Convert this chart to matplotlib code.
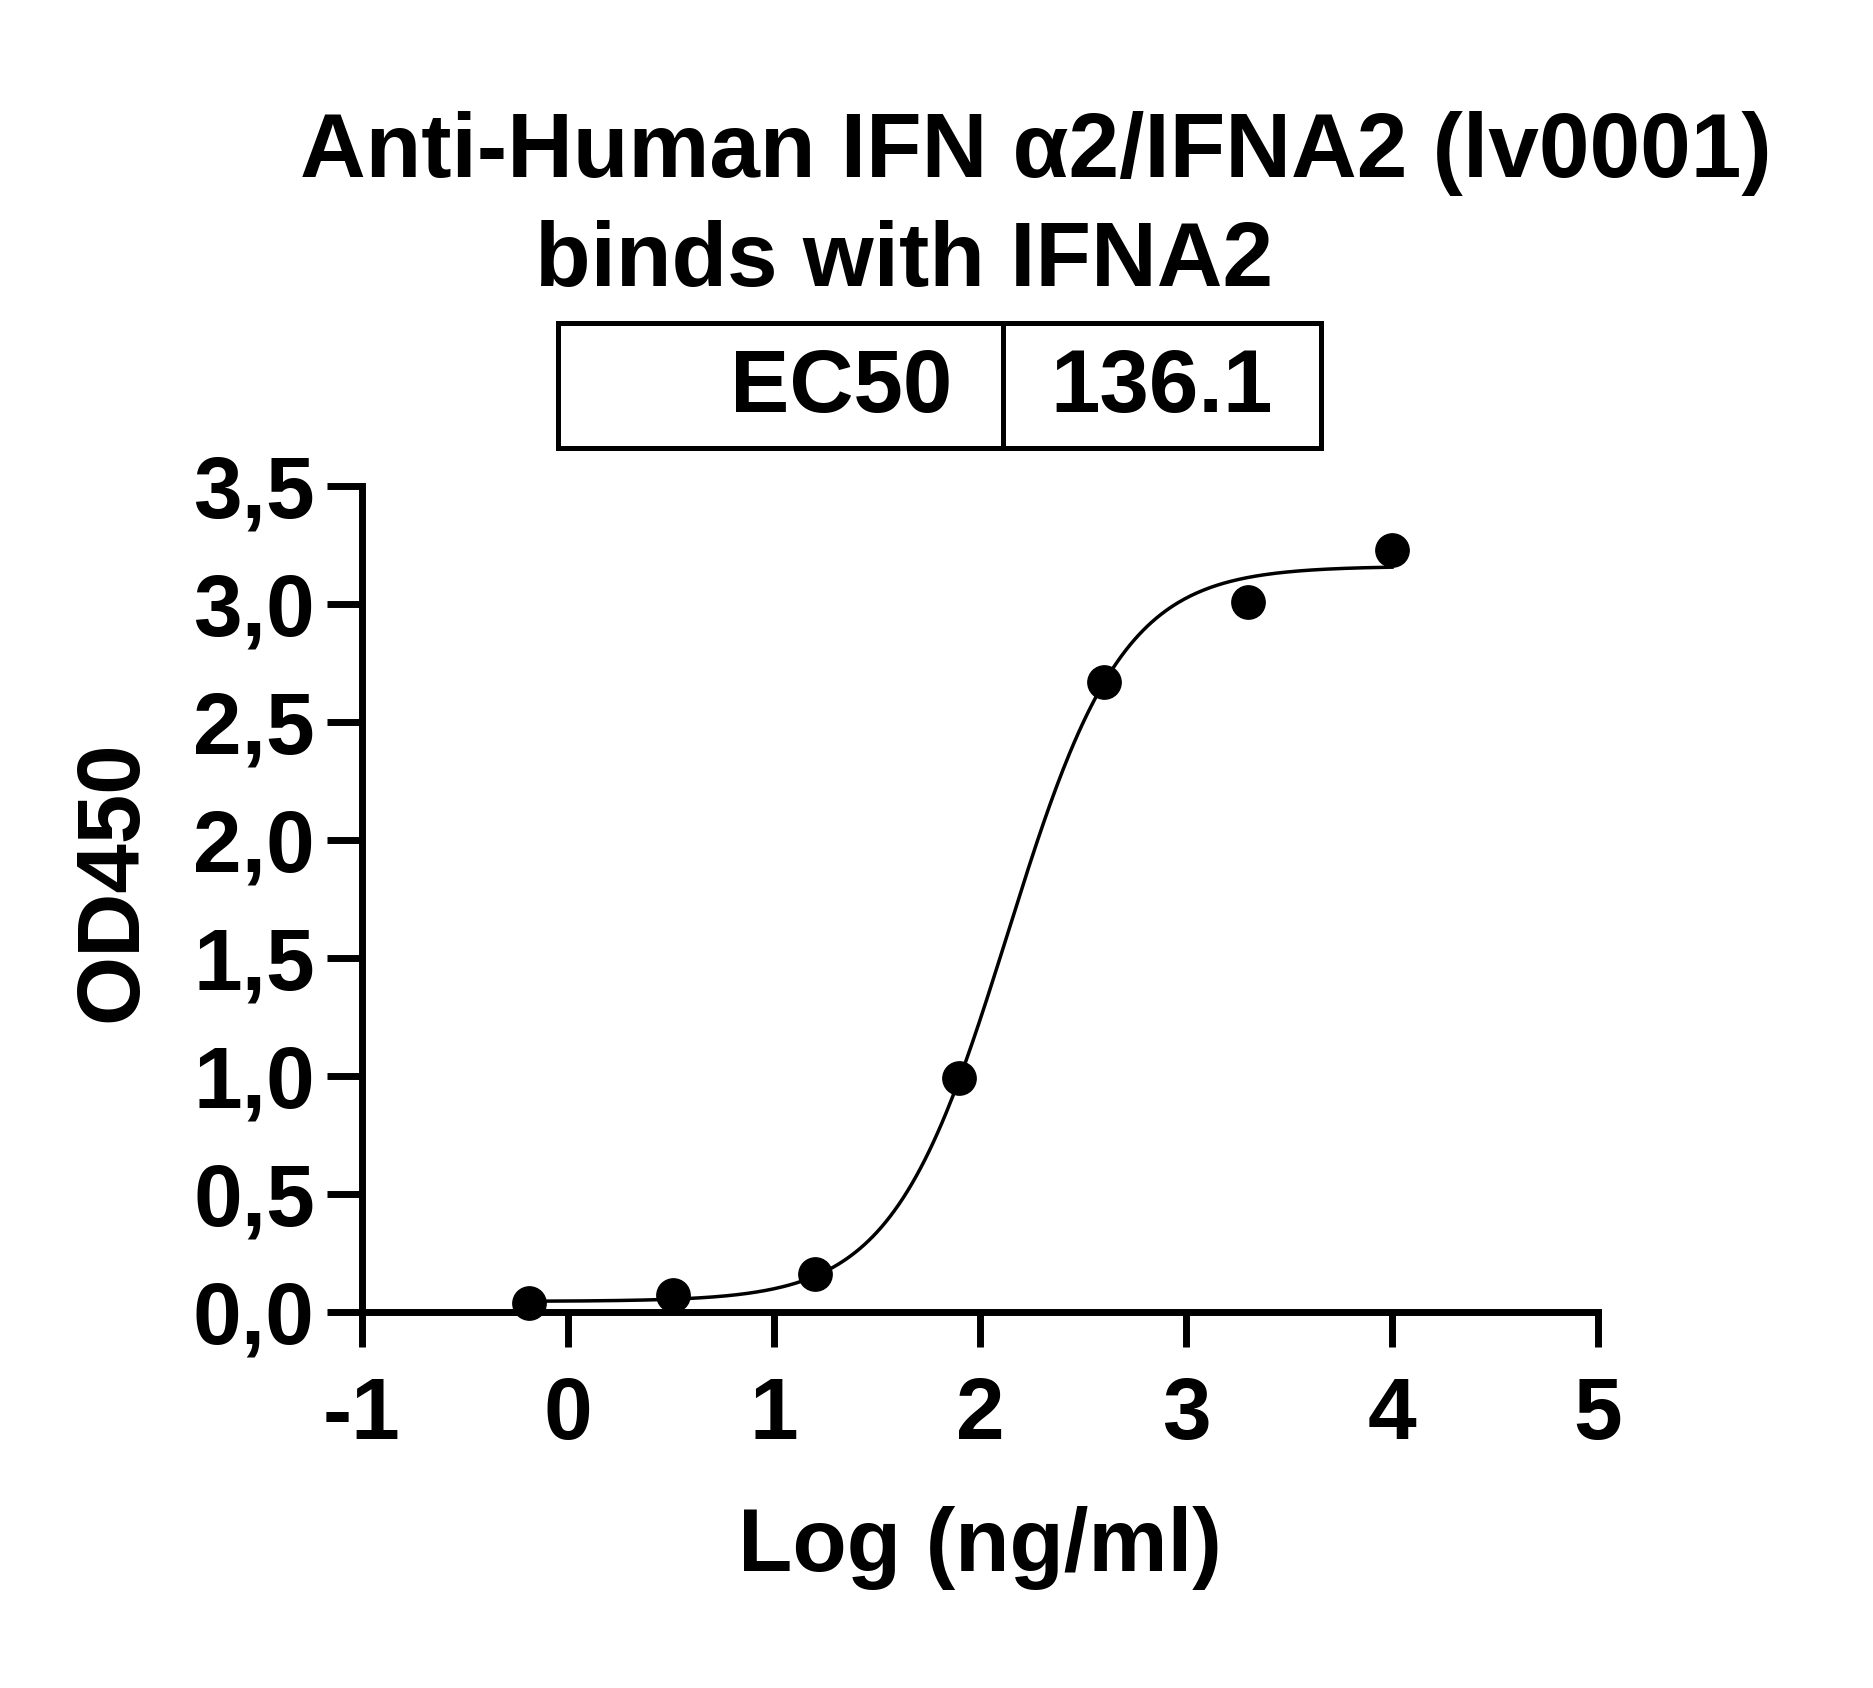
from matplotlib import pyplot as plt
from matplotlib.patches import Rectangle
from matplotlib.lines import Line2D
import numpy as np

plt.rcParams['font.family'] = ['Liberation Sans', 'DejaVu Sans']
plt.rcParams['font.weight'] = 'bold'
plt.rcParams['axes.unicode_minus'] = False

# measured points (log ng/ml vs OD450)
log_conc = [-0.19, 0.51, 1.20, 1.90, 2.60, 3.30, 4.00]
od450 = [0.04, 0.07, 0.16, 0.99, 2.67, 3.01, 3.23]

# 4PL fit, EC50 = 136.1 ng/ml
bottom = 0.045
top = 3.16
log_ec50 = np.log10(136.1)
hill = 1.55

x_ticks = [-1, 0, 1, 2, 3, 4, 5]
x_labels = ['-1', '0', '1', '2', '3', '4', '5']
y_ticks = [0.0, 0.5, 1.0, 1.5, 2.0, 2.5, 3.0, 3.5]
y_labels = ['0,0', '0,5', '1,0', '1,5', '2,0', '2,5', '3,0', '3,5']

W, H = 1873, 1688
fig = plt.figure(figsize=(W / 100, H / 100), dpi=100)
ax = fig.add_axes([362 / W, 1 - 1312 / H, (1598 - 362) / W, (1312 - 486) / H])

xc = np.linspace(min(log_conc), max(log_conc), 400)
yc = bottom + (top - bottom) / (1 + 10 ** ((log_ec50 - xc) * hill))
ax.plot(xc, yc, color='black', linewidth=2.5, zorder=2)
ax.plot(log_conc, od450, 'o', color='black', markersize=24, zorder=3, clip_on=False)

ax.set_xlim(-1, 5)
ax.set_ylim(0, 3.5)
ax.set_xticks(x_ticks)
ax.set_xticklabels(x_labels)
ax.set_yticks(y_ticks)
ax.set_yticklabels(y_labels)

for s in ['top', 'right']:
    ax.spines[s].set_visible(False)
for s in ['left', 'bottom']:
    ax.spines[s].set_linewidth(5)
ax.tick_params(axis='both', width=5, labelsize=63, direction='out')
ax.tick_params(axis='x', length=25, pad=21)
ax.tick_params(axis='y', length=25, pad=9)
for lab in ax.get_xticklabels() + ax.get_yticklabels():
    lab.set_fontweight('bold')

fig.text(980 / W, 1 - 1571 / H, 'Log (ng/ml)', fontsize=64, fontweight='bold',
         ha='center', va='baseline')
fig.text(113 / W, 1 - 881 / H, 'OD450', fontsize=64, fontweight='bold',
         ha='center', va='center', rotation=90)

fig.text(300 / W, 1 - 177 / H, 'Anti-Human IFN α2/IFNA2 (lv0001)', fontsize=65.5,
         fontweight='bold', ha='left', va='baseline')
fig.text(535 / W, 1 - 286 / H, 'binds with IFNA2', fontsize=65.5,
         fontweight='bold', ha='left', va='baseline')

# EC50 table
fig.add_artist(Rectangle((558 / W, 1 - 448 / H), (1321 - 558) / W, (448 - 323) / H,
                         transform=fig.transFigure, fill=False, edgecolor='black', linewidth=3.6))
fig.add_artist(Line2D([1003 / W, 1003 / W], [1 - 448 / H, 1 - 323 / H],
                      transform=fig.transFigure, color='black', linewidth=3.6))
fig.text(952 / W, 1 - 412 / H, 'EC50', fontsize=64, fontweight='bold', ha='right', va='baseline')
fig.text(1050 / W, 1 - 412 / H, '136.1', fontsize=64, fontweight='bold', ha='left', va='baseline')

fig.savefig('out.png', dpi=100)
